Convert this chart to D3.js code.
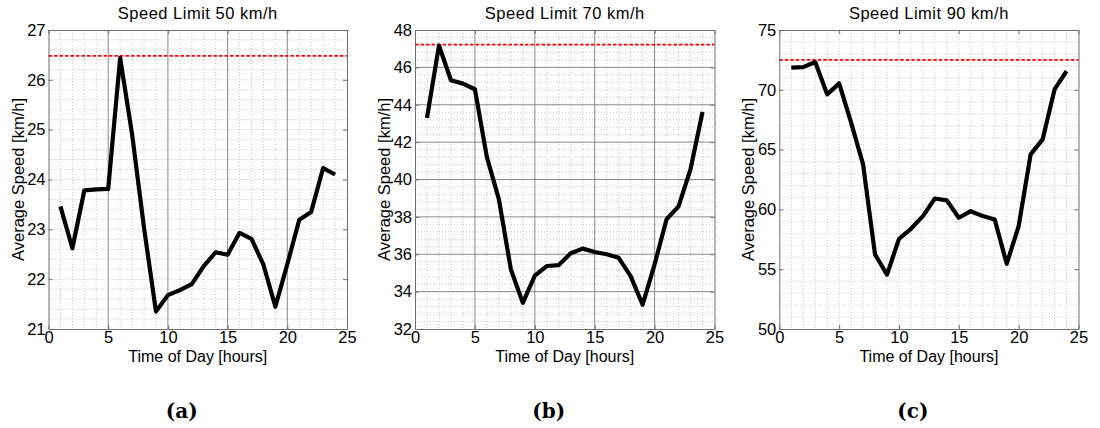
<!DOCTYPE html>
<html>
<head>
<meta charset="utf-8">
<script src="https://cdn.jsdelivr.net/npm/d3@7"></script>
<style>
  html, body { margin: 0; padding: 0; background: #fff; }
  svg { display: block; }
</style>
</head>
<body>
<svg id="chart" width="1100" height="428"></svg>
<script>
// Hour of day for each measurement
const hours = [1,2,3,4,5,6,7,8,9,10,11,12,13,14,15,16,17,18,19,20,21,22,23,24];

// Average speed per hour [km/h]
const speed50 = [23.46,22.62,23.78,23.80,23.81,26.44,24.91,23.03,21.35,21.68,21.78,21.90,
                 22.26,22.54,22.49,22.93,22.81,22.29,21.45,22.30,23.19,23.35,24.23,24.10];
const speed70 = [43.29,47.17,45.31,45.13,44.83,41.20,38.95,35.20,33.40,34.86,35.37,35.42,
                 36.05,36.30,36.12,36.00,35.81,34.83,33.30,35.46,37.87,38.56,40.56,43.61];
const speed90 = [71.85,71.90,72.32,69.62,70.54,67.25,63.76,56.23,54.55,57.54,58.38,59.44,
                 60.91,60.75,59.30,59.85,59.44,59.16,55.45,58.60,64.60,65.85,70.03,71.57];

// Reference level (dashed red) per panel
const refLevels = [26.48, 47.22, 72.5];

// Panel titles and captions
const titles = ["Speed Limit 50 km/h", "Speed Limit 70 km/h", "Speed Limit 90 km/h"];
const captions = ["(a)", "(b)", "(c)"];

// Axis ticks
const xTicks = [0,5,10,15,20,25];
const yTicks50 = [21,22,23,24,25,26,27];
const yTicks70 = [32,34,36,38,40,42,44,46,48];
const yTicks90 = [50,55,60,65,70,75];

const panels = [
  { series: speed50, yTicks: yTicks50, yMinorStep: 0.2, left: 48.5, right: 347,
    xMajorSolid: true, yMajorSolid: false },
  { series: speed70, yTicks: yTicks70, yMinorStep: 0.4, left: 415, right: 714.5,
    xMajorSolid: true, yMajorSolid: true },
  { series: speed90, yTicks: yTicks90, yMinorStep: 1, left: 779.3, right: 1078.5,
    xMajorSolid: false, yMajorSolid: false }
];

const plotTop = 30, plotBottom = 329;
const svg = d3.select("#chart");
const font = '"Liberation Sans", Arial, Helvetica, sans-serif';

panels.forEach((p, i) => {
  const yDomain = d3.extent(p.yTicks);
  const x = d3.scaleLinear().domain([0, 25]).range([p.left, p.right]);
  const y = d3.scaleLinear().domain(yDomain).range([plotBottom, plotTop]);
  const g = svg.append("g");

  // minor grid (dotted)
  const xMinor = d3.range(1, 25).filter(v => v % 5 !== 0 || !p.xMajorSolid);
  g.append("g").selectAll("line").data(xMinor).join("line")
    .attr("x1", d => x(d)).attr("x2", d => x(d))
    .attr("y1", plotTop).attr("y2", plotBottom)
    .attr("stroke", "#c4c4c4").attr("stroke-width", 1)
    .attr("stroke-dasharray", "1,2");

  const nMinor = Math.round((yDomain[1] - yDomain[0]) / p.yMinorStep);
  const yMinor = d3.range(1, nMinor).map(k => yDomain[0] + k * p.yMinorStep)
    .filter(v => !(p.yMajorSolid && p.yTicks.some(t => Math.abs(t - v) < 1e-6)));
  g.append("g").selectAll("line").data(yMinor).join("line")
    .attr("x1", p.left).attr("x2", p.right)
    .attr("y1", d => y(d)).attr("y2", d => y(d))
    .attr("stroke", "#c4c4c4").attr("stroke-width", 1)
    .attr("stroke-dasharray", "1,2");

  // major grid (solid)
  if (p.xMajorSolid) {
    g.append("g").selectAll("line").data(xTicks.slice(1, -1)).join("line")
      .attr("x1", d => x(d)).attr("x2", d => x(d))
      .attr("y1", plotTop).attr("y2", plotBottom)
      .attr("stroke", "#8a8a8a").attr("stroke-width", 1);
  }
  if (p.yMajorSolid) {
    g.append("g").selectAll("line").data(p.yTicks.slice(1, -1)).join("line")
      .attr("x1", p.left).attr("x2", p.right)
      .attr("y1", d => y(d)).attr("y2", d => y(d))
      .attr("stroke", "#8a8a8a").attr("stroke-width", 1);
  }

  // axes with inward ticks
  const xAxis = g.append("g").attr("transform", `translate(0,${plotBottom})`)
    .call(d3.axisBottom(x).tickValues(xTicks).tickFormat(d3.format("d"))
      .tickSizeInner(-4).tickSizeOuter(0).tickPadding(2));
  const xAxisTop = g.append("g").attr("transform", `translate(0,${plotTop})`)
    .call(d3.axisTop(x).tickValues(xTicks).tickSizeInner(-4).tickSizeOuter(0).tickFormat(""));
  const yAxis = g.append("g").attr("transform", `translate(${p.left},0)`)
    .call(d3.axisLeft(y).tickValues(p.yTicks).tickFormat(d3.format("d"))
      .tickSizeInner(-4).tickSizeOuter(0).tickPadding(3));
  const yAxisRight = g.append("g").attr("transform", `translate(${p.right},0)`)
    .call(d3.axisRight(y).tickValues(p.yTicks).tickSizeInner(-4).tickSizeOuter(0).tickFormat(""));
  [xAxis, xAxisTop, yAxis, yAxisRight].forEach(a => {
    a.select(".domain").attr("stroke", "#6e6e6e");
    a.selectAll(".tick line").attr("stroke", "#6e6e6e");
    a.selectAll(".tick text").attr("font-size", 16.5).attr("fill", "#000")
      .attr("font-family", font);
  });

  // reference level
  g.append("line")
    .attr("x1", x(0)).attr("x2", x(25))
    .attr("y1", y(refLevels[i])).attr("y2", y(refLevels[i]))
    .attr("stroke", "#ff0000").attr("stroke-width", 1.8)
    .attr("stroke-dasharray", "3.5,2");

  // average speed line
  const line = d3.line().x((d, k) => x(hours[k])).y(d => y(d));
  g.append("path").datum(p.series)
    .attr("d", line)
    .attr("fill", "none").attr("stroke", "#000")
    .attr("stroke-width", 4.2).attr("stroke-linejoin", "round");

  // title
  g.append("text")
    .attr("x", (p.left + p.right) / 2).attr("y", 18.5)
    .attr("text-anchor", "middle").attr("font-family", font)
    .attr("font-size", 16.5).attr("letter-spacing", 0.5).text(titles[i]);

  // axis labels
  g.append("text")
    .attr("x", (p.left + p.right) / 2).attr("y", 362)
    .attr("text-anchor", "middle").attr("font-family", font)
    .attr("font-size", 16).text("Time of Day [hours]");
  g.append("text")
    .attr("transform", `translate(${p.left - 31},${(plotTop + plotBottom) / 2}) rotate(-90)`)
    .attr("dominant-baseline", "central")
    .attr("text-anchor", "middle").attr("font-family", font)
    .attr("font-size", 16.5).text("Average Speed [km/h]");

  // caption
  g.append("text")
    .attr("x", (p.left + p.right) / 2 - 16).attr("y", 418)
    .attr("text-anchor", "middle").attr("font-family", '"DejaVu Serif", "Liberation Serif", serif')
    .attr("font-weight", "bold").attr("font-size", 20).text(captions[i]);
});
</script>
</body>
</html>
